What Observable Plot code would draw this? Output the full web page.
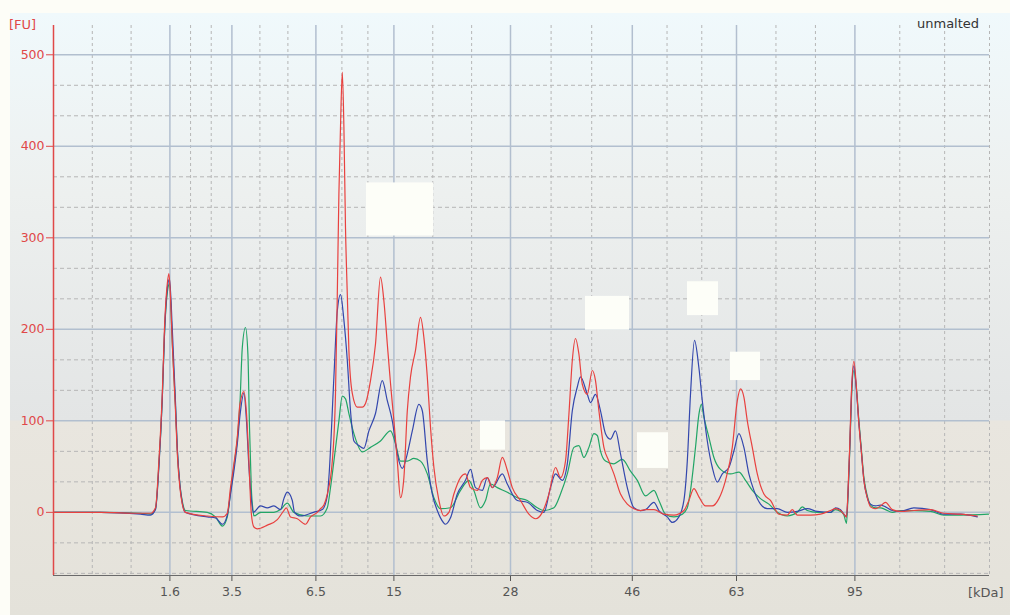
<!DOCTYPE html>
<html>
<head>
<meta charset="utf-8">
<script src="https://cdn.jsdelivr.net/npm/d3@7"></script>
<script src="https://cdn.jsdelivr.net/npm/@observablehq/plot@0.6"></script>
<style>
  html, body { margin: 0; padding: 0; background: #fdfdf7; }
  #wrap { position: relative; width: 1010px; height: 615px; overflow: hidden; font-family: "DejaVu Sans", sans-serif; }
  #panel { position: absolute; left: 10px; top: 13px; width: 1000px; height: 602px;
    background: linear-gradient(to bottom, #f0f9fc 0px, #edf0ef 180px, #e3e5e5 407px, #e9e6df 408px, #e4e2da 602px); }
  #chart { position: absolute; left: 0; top: 0; }
  .lbl { position: absolute; font-size: 13px; white-space: nowrap; }
  g[aria-label^="y-axis"] { color: #e04848; }
  g[aria-label^="x-axis"] { color: #555; }
</style>
</head>
<body>
<div id="wrap">
  <div id="panel"></div>
  <div id="chart"></div>
  <div class="lbl" style="left:9px;top:17px;color:#e04848;">[FU]</div>
  <div class="lbl" style="left:968px;top:585px;color:#555;">[kDa]</div>
  <div class="lbl" style="left:917px;top:16px;color:#333;">unmalted</div>
</div>
<script>
// Migration time (s) of ladder peaks and their sizes (kDa)
const ladderTimes = [25.82, 28.92, 33.12, 37.02, 42.85, 48.94, 54.15, 60.07];
const ladderLabels = ["1.6", "3.5", "6.5", "15", "28", "46", "63", "95"];
const timeDomain = [20, 66.8];
const fuDomain = [-69, 532];
const fuTicks = [0, 100, 200, 300, 400, 500];

// Traces: [time (s), fluorescence (FU)]
const redTrace = [
  [20.00,0],[22.35,0],[24.35,-1],[24.85,-1],[25.10,5],[25.27,56],[25.44,130],[25.55,202],[25.69,250],[25.77,261],
  [25.85,235],[25.94,184],[26.02,147],[26.10,111],[26.19,64],[26.32,27],[26.44,9],[26.60,0],[27.69,-4],[28.45,-5],
  [28.69,-1],[28.85,27],[29.02,53],[29.19,82],[29.32,118],[29.52,132],[29.65,108],[29.77,56],[29.89,-1],[30.02,-16],
  [30.19,-18],[30.69,-14],[31.19,-8],[31.52,2],[31.64,5],[31.85,-5],[32.19,-7],[32.60,-13],[32.85,-5],[33.19,0],
  [33.35,4],[33.52,8],[33.69,20],[33.94,56],[34.10,130],[34.19,238],[34.27,348],[34.35,421],[34.44,481],[34.52,421],
  [34.60,311],[34.69,238],[34.77,177],[34.94,130],[35.19,115],[35.44,115],[35.60,119],[35.85,144],[36.10,184],[36.35,257],
  [36.52,231],[36.69,184],[36.85,141],[37.02,100],[37.19,56],[37.35,16],[37.52,38],[37.69,111],[37.85,148],[38.10,177],
  [38.35,213],[38.52,191],[38.69,148],[38.85,93],[39.02,49],[39.27,13],[39.52,-4],[39.77,0],[40.02,20],[40.35,38],
  [40.60,42],[40.85,27],[41.19,24],[41.44,35],[41.69,38],[41.94,27],[42.19,38],[42.44,60],[42.69,46],[42.94,27],
  [43.35,13],[43.77,-2],[44.10,-7],[44.44,0],[44.77,20],[45.10,49],[45.35,38],[45.60,56],[45.77,107],[45.94,166],
  [46.10,190],[46.27,173],[46.44,140],[46.69,129],[46.94,155],[47.10,144],[47.27,111],[47.52,71],[47.77,56],[48.02,42],
  [48.35,20],[48.69,9],[49.02,4],[49.35,2],[49.60,3],[50.02,3],[50.52,-2],[51.02,-3],[51.52,2],[51.77,13],
  [52.02,26],[52.27,17],[52.60,7],[52.94,7],[53.27,15],[53.60,35],[53.94,71],[54.19,122],[54.35,135],[54.52,126],
  [54.69,100],[54.94,71],[55.19,42],[55.52,20],[55.85,13],[56.27,-2],[56.69,-3],[56.94,3],[57.19,-3],[57.85,-3],
  [58.35,-2],[58.85,2],[59.10,4],[59.35,2],[59.52,-2],[59.65,-5],[59.72,20],[59.82,78],[59.90,133],[60.02,165],
  [60.15,135],[60.27,97],[60.39,67],[60.52,35],[60.69,16],[60.85,6],[61.10,4],[61.35,7],[61.60,11],[61.94,3],
  [62.35,1],[63.02,2],[63.85,3],[64.52,-1],[65.35,-2],[66.19,-4]
];
const blueTrace = [
  [20.00,0],[22.35,0],[24.35,-2],[24.85,-3],[25.10,3],[25.27,50],[25.44,125],[25.55,195],[25.69,245],[25.80,255],
  [25.94,200],[26.02,160],[26.10,120],[26.19,70],[26.32,30],[26.44,10],[26.60,0],[27.69,-5],[28.10,-6],[28.45,-13],
  [28.69,-3],[28.85,20],[29.02,45],[29.19,75],[29.32,105],[29.52,130],[29.65,100],[29.77,50],[29.89,15],[29.99,0],
  [30.35,7],[30.69,5],[31.02,7],[31.35,3],[31.52,15],[31.69,22],[31.94,13],[32.05,0],[32.35,-4],[33.00,0],
  [33.44,3],[33.69,18],[33.77,38],[34.02,148],[34.19,220],[34.35,238],[34.52,210],[34.69,166],[34.85,111],[35.02,78],
  [35.27,73],[35.52,70],[35.77,89],[36.10,108],[36.44,144],[36.69,122],[36.94,100],[37.19,64],[37.44,48],[37.69,64],
  [37.94,89],[38.27,118],[38.44,111],[38.69,56],[38.94,20],[39.19,2],[39.35,-6],[39.60,-13],[39.85,-6],[40.19,20],
  [40.60,35],[40.85,47],[41.10,27],[41.44,24],[41.69,38],[41.94,27],[42.44,42],[42.69,31],[43.19,13],[43.69,11],
  [44.19,2],[44.52,0],[44.85,27],[45.10,42],[45.44,35],[45.69,53],[45.94,111],[46.19,137],[46.35,148],[46.69,129],
  [46.85,120],[47.10,129],[47.35,111],[47.60,86],[47.85,80],[48.10,89],[48.35,64],[48.69,27],[49.02,5],[49.35,2],
  [49.60,3],[50.02,11],[50.27,2],[50.69,-5],[50.94,-11],[51.27,-5],[51.52,13],[51.69,56],[51.85,129],[52.05,188],
  [52.27,158],[52.44,122],[52.69,78],[52.94,49],[53.19,33],[53.44,42],[53.77,49],[54.02,67],[54.27,86],[54.52,71],
  [54.77,42],[55.02,24],[55.35,9],[55.69,4],[56.19,4],[56.69,0],[57.19,1],[57.69,4],[58.19,1],[58.85,0],
  [59.10,5],[59.35,3],[59.52,-2],[59.65,-5],[59.72,18],[59.82,75],[59.90,130],[60.02,160],[60.15,133],[60.27,97],
  [60.39,67],[60.52,35],[60.69,16],[60.85,9],[61.10,7],[61.35,8],[61.60,6],[61.94,2],[62.35,1],[63.02,5],
  [63.85,3],[64.52,-2],[65.35,-2],[66.19,-5]
];
const greenTrace = [
  [20.00,0],[22.35,0],[24.35,-1],[24.85,-2],[25.10,4],[25.27,52],[25.44,125],[25.55,195],[25.69,240],[25.80,250],
  [25.94,185],[26.02,150],[26.10,115],[26.19,68],[26.32,30],[26.44,12],[26.60,2],[27.69,0],[28.10,-5],[28.45,-15],
  [28.69,-5],[28.85,22],[29.02,50],[29.19,80],[29.32,118],[29.44,180],[29.60,202],[29.72,173],[29.80,93],[29.89,27],
  [29.99,0],[30.02,-4],[30.35,0],[31.02,0],[31.35,3],[31.69,10],[32.02,0],[32.69,-4],[33.35,-4],[33.69,5],
  [33.85,27],[34.02,56],[34.27,100],[34.44,127],[34.60,124],[34.77,108],[35.02,86],[35.44,66],[35.85,71],[36.35,78],
  [36.85,89],[37.10,75],[37.35,56],[37.69,56],[38.02,59],[38.35,56],[38.69,42],[39.02,16],[39.35,4],[39.85,5],
  [40.35,24],[40.77,35],[41.02,24],[41.35,5],[41.60,13],[41.85,31],[42.19,27],[42.69,22],[43.19,16],[43.69,13],
  [44.19,5],[44.52,2],[45.02,5],[45.35,20],[45.69,42],[46.02,71],[46.27,73],[46.52,60],[46.77,71],[47.02,86],
  [47.19,84],[47.35,67],[47.60,56],[48.02,53],[48.44,58],[48.85,45],[49.19,35],[49.60,18],[50.02,24],[50.27,13],
  [50.60,-2],[51.02,-5],[51.44,-2],[51.69,5],[51.85,24],[52.10,71],[52.27,107],[52.39,118],[52.52,104],[52.77,82],
  [53.02,60],[53.35,47],[53.85,42],[54.27,44],[54.60,35],[54.94,24],[55.35,15],[55.77,9],[56.19,0],[56.69,-4],
  [57.19,0],[57.44,6],[57.69,2],[58.19,0],[58.85,0],[59.10,3],[59.35,1],[59.52,-3],[59.65,-12],[59.72,15],
  [59.82,72],[59.90,125],[60.02,155],[60.15,135],[60.27,100],[60.39,70],[60.52,38],[60.69,18],[60.85,8],[61.10,5],
  [61.35,5],[61.60,3],[61.94,0],[62.35,2],[63.02,2],[63.85,1],[64.52,-3],[65.35,-3],[66.75,-2]
];

// Blanked-out peak labels: [t1, t2, fu1, fu2]
const maskedLabels = [
  [35.65, 39.00, 302, 360],
  [46.60, 48.80, 199, 236],
  [51.70, 53.25, 215, 252],
  [53.85, 55.35, 144, 175],
  [41.35, 42.60, 68, 100],
  [49.20, 50.75, 48, 87]
];

const labelByTime = new Map(ladderTimes.map((t, i) => [t, ladderLabels[i]]));
const xBounds = [timeDomain[0], ...ladderTimes, timeDomain[1]];
const minorX = [];
for (let i = 0; i < xBounds.length - 1; i++) {
  const a = xBounds[i], b = xBounds[i + 1];
  minorX.push(a + (b - a) / 3, a + 2 * (b - a) / 3);
}
minorX.push(timeDomain[1]);
const minorY = d3.range(-2, 16).filter(k => k % 3 !== 0).map(k => k * 100 / 3);

const series = [
  {data: greenTrace, color: "#22a566"},
  {data: blueTrace, color: "#3347ad"},
  {data: redTrace, color: "#e8413f"}
];

const chart = Plot.plot({
  width: 1010, height: 615,
  marginLeft: 53, marginRight: 21, marginTop: 25, marginBottom: 40,
  style: {background: "transparent", fontFamily: "DejaVu Sans, sans-serif", fontSize: "12.5px", overflow: "visible"},
  x: {domain: timeDomain, ticks: ladderTimes, tickFormat: d => labelByTime.get(d), tickSize: 6, tickPadding: 6, label: null},
  y: {domain: fuDomain, ticks: fuTicks, tickSize: 7, tickPadding: 2, label: null},
  marks: [
    Plot.ruleY(minorY, {stroke: "#b6b6b6", strokeDasharray: "4,3", strokeWidth: 1}),
    Plot.ruleX(minorX, {stroke: "#b6b6b6", strokeDasharray: "3,3", strokeWidth: 1}),
    Plot.ruleY(fuTicks, {stroke: "#b2bfcf", strokeWidth: 1.5}),
    Plot.ruleX(ladderTimes, {stroke: "#b2bfcf", strokeWidth: 1.5}),
    ...series.map(s => Plot.line(s.data, {x: d => d[0], y: d => d[1], stroke: s.color, strokeWidth: 1.2, curve: "monotone-x"})),
    Plot.rect(maskedLabels, {x1: d => d[0], x2: d => d[1], y1: d => d[2], y2: d => d[3], fill: "#fdfef8"}),
    Plot.ruleX([timeDomain[0]], {stroke: "#e04848", strokeWidth: 1.5}),
    Plot.ruleY([fuDomain[0]], {stroke: "#6a6a6a", strokeWidth: 1.2})
  ]
});
document.getElementById("chart").appendChild(chart);
</script>
</body>
</html>
